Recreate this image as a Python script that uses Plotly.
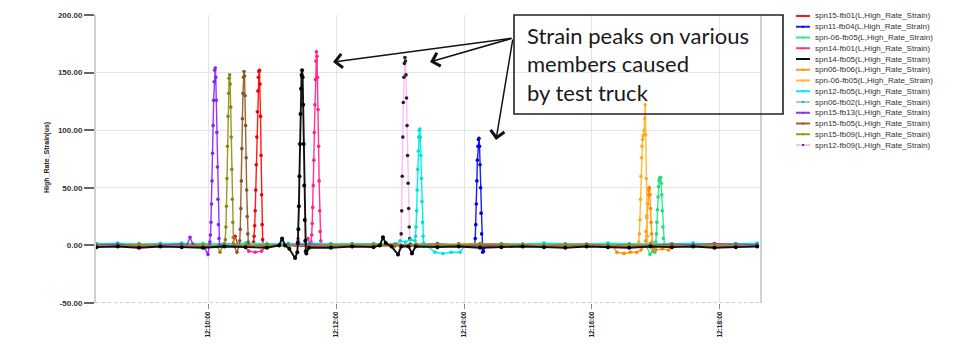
import plotly.graph_objects as go
import pandas as pd

# ---------------- data ----------------
series_names = [
    "spn15-fb01(L,High_Rate_Strain)", "spn11-fb04(L,High_Rate_Strain)",
    "spn-06-fb05(L,High_Rate_Strain)", "spn14-fb01(L,High_Rate_Strain)",
    "spn14-fb05(L,High_Rate_Strain)", "spn06-fb06(L,High_Rate_Strain)",
    "spn-06-fb05(L,High_Rate_Strain)", "spn12-fb05(L,High_Rate_Strain)",
    "spn06-fb02(L,High_Rate_Strain)", "spn15-fb13(L,High_Rate_Strain)",
    "spn15-fb05(L,High_Rate_Strain)", "spn15-fb09(L,High_Rate_Strain)",
    "spn12-fb09(L,High_Rate_Strain)",
]
line_colors = ["#ff1a1a", "#1a1aff", "#33ee88", "#ff3399", "#111111", "#ff9922",
               "#ffbb33", "#00f0f0", "#99ccdd", "#9933ff", "#996633", "#999922", "#ffbbff"]
marker_colors = ["#ee0000", "#0000ee", "#22dd77", "#ff2288", "#000000", "#ff8800",
                 "#ffaa22", "#00dddd", "#339999", "#8822ee", "#885522", "#888811", "#222222"]

# time in seconds after 12:08:00
base_t = [15, 35, 55, 75, 95, 115, 135, 155, 175, 195, 215, 235, 255, 275, 295, 315,
          335, 355, 375, 395, 415, 435, 455, 475, 495, 515, 535, 555, 575, 595, 615, 635]

red_base = [0.5, -0.5, 1.0, 0.0, -1.0, 0.5, 1.0, -0.5, 0.0, 0.5, -1.0, 0.0, 1.0, 0.5, -0.5, 0.0,
            1.0, -0.5, 0.5, 0.0, -1.0, 0.5, 0.0, 1.0, -0.5, 0.0, 0.5, -0.5, 1.0, 0.0, 0.5, -0.5]
blue_base = [1.0, 0.5, 0.0, 1.5, 0.5, -0.5, 1.0, 0.0, 0.5, 1.0, 0.0, -0.5, 0.5, 1.0, 0.0, 0.5,
             1.5, 0.0, 0.5, -0.5, 1.0, 0.5, 0.0, 0.5, 1.0, 0.0, -0.5, 0.5, 1.5, 1.0, 0.5, 0.0]
green_base = [0.0, 1.0, 0.5, -0.5, 0.0, 1.0, 0.5, 0.0, -0.5, 0.5, 1.0, 0.0, 0.5, -0.5, 0.0, 1.0,
              0.5, 0.0, -0.5, 0.5, 1.0, 0.0, 0.5, -0.5, 0.0, 0.5, -1.0, 0.0, 0.5, 1.0, 0.0, 0.5]
pink_base = [-0.5, 0.0, -1.0, 0.5, -0.5, -1.0, 0.0, -0.5, -1.0, 0.0, -0.5, 0.5, -1.0, -0.5, 0.0, -0.5,
             -1.0, 0.0, -0.5, -1.0, 0.5, -0.5, 0.0, -1.0, -0.5, 0.0, -0.5, -1.0, 0.0, -0.5, -1.0, 0.0]
black_base = [-1.5, -1.0, -2.0, -1.0, -1.5, -2.0, -1.0, -1.5, -2.0, -1.0, -1.5, -2.0, -1.0, -1.5, -1.0, -2.0,
              -1.5, -1.0, -2.0, -1.5, -1.0, -1.5, -2.0, -1.0, -1.5, -2.0, -1.0, -1.5, -1.0, -2.0, -1.5, -1.0]
orange_base = [0.5, 1.0, 0.0, 0.5, 1.5, 0.5, 0.0, 1.0, 0.5, 0.0, 1.0, 1.5, 0.5, 0.0, 1.0, 0.5,
               0.0, 1.0, 1.5, 0.5, 1.0, 0.0, 0.5, 1.0, 0.5, 0.0, 1.0, 0.5, 0.0, 1.0, 0.5, 1.0]
yellow_base = [0.0, 0.5, 1.0, 0.0, 0.5, -0.5, 0.5, 1.0, 0.0, 0.5, 0.0, 1.0, 0.5, 0.0, -0.5, 0.5,
               1.0, 0.5, 0.0, 0.5, 0.0, 1.0, 0.5, 0.0, 0.5, 1.0, 0.0, 0.5, 0.0, 0.5, 1.0, 0.0]
cyan_base = [1.5, 2.0, 1.0, 1.5, 2.0, 1.5, 1.0, 2.0, 1.5, 1.0, 2.0, 1.5, 1.0, 1.5, 2.0, 1.0,
             1.5, 2.0, 1.0, 1.5, 1.0, 2.0, 1.5, 1.0, 2.0, 1.5, 1.0, 1.5, 2.0, 1.0, 1.5, 2.0]
ltblue_base = [1.0, 0.5, 1.5, 1.0, 0.5, 1.0, 1.5, 0.5, 1.0, 1.5, 0.5, 1.0, 1.5, 1.0, 0.5, 1.0,
               0.5, 1.5, 1.0, 0.5, 1.0, 1.5, 1.0, 0.5, 1.0, 0.5, 1.5, 1.0, 0.5, 1.0, 1.5, 1.0]
purple_base = [0.5, 1.0, 0.0, 0.5, 1.0, 0.5, 0.0, -0.5, 0.5, 0.0, 1.0, 0.5, 0.0, 0.5, 1.0, 0.0,
               0.5, -0.5, 0.0, 1.0, 0.5, 0.0, 0.5, 1.0, 0.0, 0.5, 0.0, 1.0, 0.5, 1.5, 1.0, 0.5]
brown_base = [-0.5, 0.0, 0.5, -0.5, 0.0, -1.0, 0.0, 0.5, -0.5, 0.0, -0.5, 0.5, 0.0, -0.5, 0.0, 0.5,
              -0.5, 0.0, 0.5, -0.5, 0.0, -1.0, 0.0, 0.5, 0.0, -0.5, 0.0, 0.5, -0.5, 0.0, -0.5, 0.0]
olive_base = [0.0, -0.5, 0.5, 0.0, -0.5, 0.5, -1.0, 0.0, 0.5, -0.5, 0.0, 0.5, 0.0, 1.0, 0.5, 0.0,
              1.0, 0.5, 1.5, 1.0, 0.5, 0.0, 1.0, 0.5, 0.0, 0.5, 0.0, -0.5, 0.0, 0.5, 0.0, -0.5]
ltpink_base = [0.0, 0.5, -0.5, 0.0, 0.5, 0.0, -0.5, 0.0, 0.5, 0.0, -0.5, 0.5, 0.0, 0.5, 0.0, -0.5,
               0.0, 0.5, 0.0, -0.5, 0.5, 0.0, 0.0, 0.5, -0.5, 0.0, 0.5, 0.0, -0.5, 0.0, 0.5, 0.0]

# peak segments: start time (s after 12:08:00) and samples at PEAK_DT spacing
PEAK_DT = 0.5
red_t0, red_peak = 162.0, [0, 3, 8, 17, 30, 48, 70, 94, 116, 134, 146, 151, 152, 140, 112, 78, 44, 18, 5, 0]
blue_t0, blue_peak = 370.0, [0, 6, 18, 36, 56, 74, 86, 92, 93, 86, 70, 50, 28, 10, -2, -6, -5]
green_t0, green_peak = 539.0, [-6, -2, 3, 10, 20, 31, 42, 51, 56, 58, 59, 59, 54, 44, 30, 16, 6, 1, -1]
pink_t0, pink_peak = 216.0, [0, 3, 9, 19, 33, 52, 74, 98, 122, 144, 160, 168, 164, 146, 118, 86, 56, 30, 12, 4, 1, 0]
black_t0, black_peak = 203.5, [-6, 2, 14, 34, 60, 88, 114, 136, 148, 152, 146, 122, 88, 52, 22, 4, -5, -7]
orange_t0, orange_peak = 530.0, [0, 4, 12, 24, 36, 44, 48, 50, 50, 44, 32, 20, 10, 3, -1, -3]
yellow_t0, yellow_peak = 523.5, [0, 3, 10, 22, 40, 60, 76, 86, 92, 95, 96, 100, 110, 122, 96, 58, 26, 8, 1, 0]
cyan_t0, cyan_peak = 314.0, [4, 8, 16, 30, 48, 66, 82, 94, 100, 101, 94, 78, 58, 38, 20, 8, 2, -1]
purple_t0, purple_peak = 121.0, [0, 3, 9, 20, 36, 56, 80, 104, 126, 142, 152, 154, 146, 126, 98, 68, 40, 18, 6, 0]
brown_t0, brown_peak = 149.0, [0, 4, 14, 32, 56, 84, 110, 132, 146, 151, 147, 130, 104, 76, 48, 25, 10, 3, 0]
olive_t0, olive_peak = 135.5, [0, 5, 16, 34, 58, 86, 112, 132, 145, 148, 140, 120, 94, 66, 40, 20, 7, 1]
ltpink_t0, ltpink_peak = 300.5, [0, 10, 30, 60, 94, 124, 146, 158, 163, 160, 148, 128, 104, 78, 54, 32, 16, 6, 1, 0]

# small bumps / dips around the events
red_ex_t, red_ex_v = [142.5, 145.1, 147.5], [1, 8, 1]
blue_ex_t, blue_ex_v = [380.0], [-1]
green_ex_t, green_ex_v = [531.5, 534.4, 537.0], [-1, -8, -5]
pink_ex_t = [154, 158, 164, 170, 174, 201.5, 204.2, 207, 210.5, 213.5]
pink_ex_v = [-1, -5, -6, -5, -1, 0, 6, 0, 1, 6]
black_ex_t = [186.5, 189.2, 192, 196, 201.4, 214.5, 281, 283.9, 286.5, 292, 298.0, 301, 308, 311.1, 314.5]
black_ex_v = [0, 6, 0, -3, -11, -2, 0, 7, 2, -1, -8, -1, -1, -7, -1]
orange_ex_t = [500, 503.5, 510, 516, 522, 526, 540, 546, 552, 556]
orange_ex_v = [-1, -6, -7, -6, -6, -4, -4, -3, -4, -1]
cyan_ex_t = [296, 300, 305, 310, 326, 332.7, 340, 348, 356.2, 360]
cyan_ex_v = [1, 4, 3, 5, -1, -6, -7, -6, -6, -1]
purple_ex_t, purple_ex_v = [100, 102.8, 105.5, 116.5, 119.7], [0, 7, 1, -2, -8]
brown_ex_t, brown_ex_v = [144.5, 146.9], [-1, -6]
olive_ex_t, olive_ex_v = [128.5, 131.0, 133.0], [-1, -6, -1]

y_tick_vals = [-50, 0, 50, 100, 150, 200]
x_tick_labels = ["12:10:00", "12:12:00", "12:14:00", "12:16:00", "12:18:00"]

# ---------------- assemble ----------------
series_base = [red_base, blue_base, green_base, pink_base, black_base, orange_base, yellow_base,
               cyan_base, ltblue_base, purple_base, brown_base, olive_base, ltpink_base]
series_peak = [(red_t0, red_peak), (blue_t0, blue_peak), (green_t0, green_peak), (pink_t0, pink_peak),
               (black_t0, black_peak), (orange_t0, orange_peak), (yellow_t0, yellow_peak),
               (cyan_t0, cyan_peak), (None, []), (purple_t0, purple_peak), (brown_t0, brown_peak),
               (olive_t0, olive_peak), (ltpink_t0, ltpink_peak)]
series_extra = [(red_ex_t, red_ex_v), (blue_ex_t, blue_ex_v), (green_ex_t, green_ex_v),
                (pink_ex_t, pink_ex_v), (black_ex_t, black_ex_v), (orange_ex_t, orange_ex_v),
                ([], []), (cyan_ex_t, cyan_ex_v), ([], []), (purple_ex_t, purple_ex_v),
                (brown_ex_t, brown_ex_v), (olive_ex_t, olive_ex_v), ([], [])]

T0 = pd.Timestamp("2015-06-01 12:08:00")


def to_time(sec):
    return T0 + pd.to_timedelta(sec, unit="s")


def build(i):
    t0, pk = series_peak[i]
    ex_t, ex_v = series_extra[i]
    det_t = list(ex_t)
    det_v = list(ex_v)
    if t0 is not None:
        det_t += [t0 + k * PEAK_DT for k in range(len(pk))]
        det_v += list(pk)
    pts = [(t, v) for t, v in zip(base_t, series_base[i]) if all(abs(t - d) > 4 for d in det_t)]
    pts += list(zip(det_t, det_v))
    pts.sort()
    return [to_time(p[0]) for p in pts], [p[1] for p in pts]


fig = go.Figure()
draw_order = [8, 12, 0, 1, 2, 3, 5, 6, 7, 9, 10, 11, 4]
for i in draw_order:
    xs, ys = build(i)
    is_black = (i == 4)
    fig.add_trace(go.Scatter(
        x=xs, y=ys, mode="lines+markers", name=series_names[i], showlegend=False,
        line=dict(color=line_colors[i], width=1.9 if is_black else 1.4),
        marker=dict(color=marker_colors[i], size=4 if is_black else 3.6),
    ))

# ---------------- layout ----------------
# the page body adds an 8px offset; positions below are page pixels
OFF = 8
W, H = 975 - 2 * OFF, 360 - 2 * OFF
L, R, T, B = 96, 760, 15, 303


def px_x(p):
    return (p - L) / (R - L)


def px_y(p):
    return (B - p) / (B - T)


shapes = []
annotations = []

# dotted bottom axis line
shapes.append(dict(type="line", xref="paper", yref="y", x0=0, x1=1, y0=-50, y1=-50,
                   line=dict(color="#999999", width=1.2, dash="dot")))

# annotation box
shapes.append(dict(type="rect", xref="paper", yref="paper", x0=px_x(514), x1=px_x(783),
                   y0=px_y(114), y1=px_y(15), line=dict(color="#222222", width=1.6)))

note_lines = ["Strain peaks on various", "members caused", "by test truck"]
for k, (txt, yc) in enumerate(zip(note_lines, [36, 64, 92])):
    annotations.append(dict(text=txt, xref="paper", yref="paper", x=px_x(525), y=px_y(yc),
                            xanchor="left", yanchor="middle", showarrow=False,
                            font=dict(family="Lato", size=22, color="#1a1a1a")))

# arrows
for tip in [(333, 62), (430, 62), (496, 140)]:
    annotations.append(dict(text="", xref="paper", yref="paper", x=px_x(tip[0]), y=px_y(tip[1]),
                            ax=513 - tip[0], ay=38 - tip[1], showarrow=True,
                            arrowhead=4, arrowsize=1.8, arrowwidth=1.5, arrowcolor="#111111"))

# y-axis title
annotations.append(dict(text="<b>High_Rate_Strain(us)</b>", xref="paper", yref="paper",
                        x=px_x(41), y=px_y(158), textangle=-90, showarrow=False,
                        font=dict(family="Liberation Sans", size=7, color="#222222")))

# custom legend
for i, name in enumerate(series_names):
    yc = 16 + i * 10.75
    shapes.append(dict(type="line", xref="paper", yref="paper", x0=px_x(796), x1=px_x(810),
                       y0=px_y(yc), y1=px_y(yc), line=dict(color=line_colors[i], width=2)))
    shapes.append(dict(type="circle", xref="paper", yref="paper", x0=px_x(802), x1=px_x(804.2),
                       y0=px_y(yc + 1.1), y1=px_y(yc - 1.1), fillcolor=marker_colors[i],
                       line=dict(width=0)))
    annotations.append(dict(text=name, xref="paper", yref="paper", x=px_x(813), y=px_y(yc),
                            xanchor="left", yanchor="middle", showarrow=False,
                            font=dict(family="Liberation Sans", size=8, color="#333333")))

fig.update_layout(
    width=W, height=H,
    margin=dict(l=L - OFF, r=W - (R - OFF), t=T - OFF, b=H - (B - OFF), autoexpand=False),
    paper_bgcolor="white", plot_bgcolor="white",
    shapes=shapes, annotations=annotations,
    font=dict(family="Liberation Sans"),
)
fig.update_xaxes(
    type="date",
    range=[to_time(14.6), to_time(637.7)],
    tickvals=[pd.Timestamp("2015-06-01 " + s) for s in x_tick_labels],
    ticktext=["<b>%s</b>" % s for s in x_tick_labels],
    tickangle=-90, ticks="outside", ticklen=5, tickcolor="#888888",
    tickfont=dict(size=6.5, color="#222222"),
    showgrid=True, gridcolor="#e4e4e4", gridwidth=1,
    showline=False, zeroline=False,
)
fig.update_yaxes(
    range=[-50, 200], tickvals=y_tick_vals,
    ticktext=["<b>%.2f</b>" % v for v in y_tick_vals],
    ticks="outside", ticklen=10, tickwidth=1.5, tickcolor="#666666",
    tickfont=dict(size=8, color="#333333"),
    showgrid=True, gridcolor="#e4e4e4", gridwidth=1,
    showline=True, linecolor="#d0d0d0", linewidth=2, mirror=True,
    zeroline=False,
)

fig.write_html("out.html")
